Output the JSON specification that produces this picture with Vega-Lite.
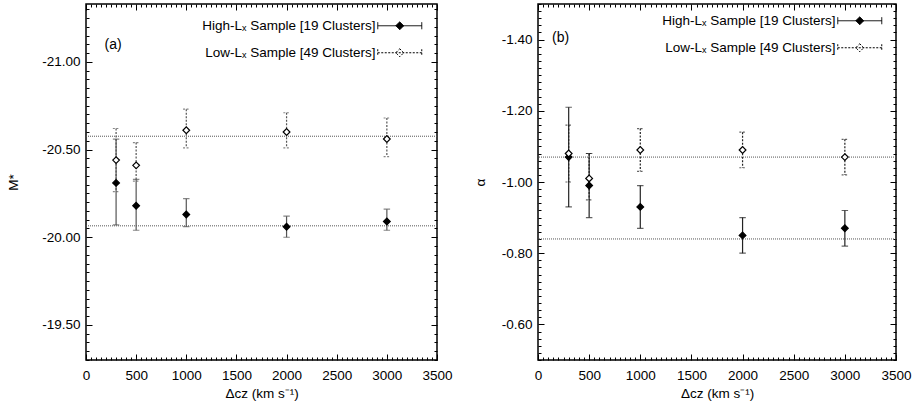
{
  "$schema": "https://vega.github.io/schema/vega-lite/v6.json",
  "background": "white",
  "padding": {"left": 5, "top": -4, "right": 5, "bottom": 0},
  "config": {
    "font": "Liberation Sans",
    "view": {"stroke": "black", "strokeWidth": 1.5},
    "axis": {"domain": false, "grid": false, "labelFont": "Liberation Sans", "labelFontSize": 13.5, "labelColor": "black", "titleFont": "Liberation Sans", "titleFontSize": 13.5, "titleFontWeight": "normal", "titleColor": "black", "tickColor": "black", "tickWidth": 1, "labelPadding": 12, "labelFlush": false, "labelOverlap": false, "labelBound": false},
    "legend": {"title": null, "orient": "none", "padding": 0, "symbolType": "M-4.4,0H4.4M-4.4,-0.7V0.7M4.4,-0.7V0.7M0,-0.8L0.8,0L0,0.8L-0.8,0Z", "symbolStrokeWidth": 1, "symbolStrokeColor": "black", "labelAlign": "right", "labelOffset": -31, "rowPadding": 12, "labelFont": "Liberation Sans", "labelFontSize": 13.5, "labelColor": "black", "labelLimit": 400},
    "title": {"font": "Liberation Sans", "fontSize": 14, "fontWeight": "normal", "color": "black", "anchor": "start", "frame": "group", "baseline": "alphabetic"}
  },
  "datasets": {
    "mstar": [
      {"series": "High-Lₓ Sample [19 Clusters]", "dcz": 300, "val": -20.31, "lo": -20.56, "hi": -20.07},
      {"series": "High-Lₓ Sample [19 Clusters]", "dcz": 500, "val": -20.18, "lo": -20.33, "hi": -20.04},
      {"series": "High-Lₓ Sample [19 Clusters]", "dcz": 1000, "val": -20.13, "lo": -20.22, "hi": -20.06},
      {"series": "High-Lₓ Sample [19 Clusters]", "dcz": 2000, "val": -20.06, "lo": -20.12, "hi": -20.0},
      {"series": "High-Lₓ Sample [19 Clusters]", "dcz": 3000, "val": -20.09, "lo": -20.16, "hi": -20.04},
      {"series": "Low-Lₓ Sample [49 Clusters]", "dcz": 300, "val": -20.44, "lo": -20.62, "hi": -20.26},
      {"series": "Low-Lₓ Sample [49 Clusters]", "dcz": 500, "val": -20.41, "lo": -20.54, "hi": -20.32},
      {"series": "Low-Lₓ Sample [49 Clusters]", "dcz": 1000, "val": -20.61, "lo": -20.73, "hi": -20.51},
      {"series": "Low-Lₓ Sample [49 Clusters]", "dcz": 2000, "val": -20.6, "lo": -20.71, "hi": -20.51},
      {"series": "Low-Lₓ Sample [49 Clusters]", "dcz": 3000, "val": -20.56, "lo": -20.68, "hi": -20.46}
    ],
    "mstar_lines": [
      {"series": "High-Lₓ Sample [19 Clusters]", "level": -20.065},
      {"series": "Low-Lₓ Sample [49 Clusters]", "level": -20.576}
    ],
    "alpha": [
      {"series": "High-Lₓ Sample [19 Clusters]", "dcz": 300, "val": -1.07, "lo": -1.21, "hi": -0.93},
      {"series": "High-Lₓ Sample [19 Clusters]", "dcz": 500, "val": -0.99, "lo": -1.08, "hi": -0.9},
      {"series": "High-Lₓ Sample [19 Clusters]", "dcz": 1000, "val": -0.93, "lo": -0.99, "hi": -0.87},
      {"series": "High-Lₓ Sample [19 Clusters]", "dcz": 2000, "val": -0.85, "lo": -0.9, "hi": -0.8},
      {"series": "High-Lₓ Sample [19 Clusters]", "dcz": 3000, "val": -0.87, "lo": -0.92, "hi": -0.82},
      {"series": "Low-Lₓ Sample [49 Clusters]", "dcz": 300, "val": -1.08, "lo": -1.16, "hi": -1.0},
      {"series": "Low-Lₓ Sample [49 Clusters]", "dcz": 500, "val": -1.01, "lo": -1.08, "hi": -0.95},
      {"series": "Low-Lₓ Sample [49 Clusters]", "dcz": 1000, "val": -1.09, "lo": -1.15, "hi": -1.03},
      {"series": "Low-Lₓ Sample [49 Clusters]", "dcz": 2000, "val": -1.09, "lo": -1.14, "hi": -1.04},
      {"series": "Low-Lₓ Sample [49 Clusters]", "dcz": 3000, "val": -1.07, "lo": -1.12, "hi": -1.02}
    ],
    "alpha_lines": [
      {"series": "High-Lₓ Sample [19 Clusters]", "level": -0.84},
      {"series": "Low-Lₓ Sample [49 Clusters]", "level": -1.07}
    ]
  },
  "resolve": {
    "scale": {"strokeDash": "independent", "fill": "independent"},
    "legend": {"strokeDash": "independent", "fill": "independent"}
  },
  "spacing": 19,
  "hconcat": [
    {
      "width": 351,
      "height": 356,
      "title": {"text": "(a)", "offset": -49.5, "dx": 18.5},
      "resolve": {"axis": {"x": "independent", "y": "independent"}},
      "layer": [
        {
          "data": {"name": "mstar"},
          "mark": {"type": "rule", "color": "#555", "strokeWidth": 1.2},
          "encoding": {
            "x": {"field": "dcz", "type": "quantitative", "scale": {"domain": [0, 3500], "nice": false, "zero": false},
              "axis": {"orient": "bottom", "title": "Δcz (km s⁻¹)", "titlePadding": 2, "labelPadding": 14,
                "values": [0,50,100,150,200,250,300,350,400,450,500,550,600,650,700,750,800,850,900,950,1000,1050,1100,1150,1200,1250,1300,1350,1400,1450,1500,1550,1600,1650,1700,1750,1800,1850,1900,1950,2000,2050,2100,2150,2200,2250,2300,2350,2400,2450,2500,2550,2600,2650,2700,2750,2800,2850,2900,2950,3000,3050,3100,3150,3200,3250,3300,3350,3400,3450,3500],
                "labelExpr": "datum.value % 500 === 0 ? format(datum.value, 'd') : ''",
                "tickSize": {"condition": {"test": "datum.value % 500 === 0", "value": -6}, "value": -3}}},
            "y": {"field": "lo", "type": "quantitative", "scale": {"domain": [-21.33, -19.3], "reverse": true, "nice": false, "zero": false},
              "axis": {"orient": "left", "title": "M*", "titlePadding": 21, "labelPadding": 12,
                "values": [-21.3,-21.25,-21.2,-21.15,-21.1,-21.05,-21,-20.95,-20.9,-20.85,-20.8,-20.75,-20.7,-20.65,-20.6,-20.55,-20.5,-20.45,-20.4,-20.35,-20.3,-20.25,-20.2,-20.15,-20.1,-20.05,-20,-19.95,-19.9,-19.85,-19.8,-19.75,-19.7,-19.65,-19.6,-19.55,-19.5,-19.45,-19.4,-19.35,-19.3],
                "labelExpr": "abs(datum.value*2 - round(datum.value*2)) < 0.001 ? replace(format(datum.value, '.2f'), '−', '-') : ''",
                "tickSize": {"condition": {"test": "abs(datum.value*2 - round(datum.value*2)) < 0.001", "value": -6}, "value": -3}}},
            "y2": {"field": "hi"},
            "strokeDash": {"field": "series", "type": "nominal",
              "scale": {"domain": ["High-Lₓ Sample [19 Clusters]", "Low-Lₓ Sample [49 Clusters]"], "range": [[1, 0], [2, 1.5]]},
              "legend": {"orient": "none", "legendX": 307, "legendY": 15}}
          }
        },
        {
          "data": {"name": "mstar"},
          "mark": {"type": "point", "shape": "stroke", "size": 42, "color": "#555", "strokeWidth": 1.2, "filled": false},
          "encoding": {
            "x": {"field": "dcz", "type": "quantitative",
              "axis": {"orient": "top", "labels": false, "title": null,
                "values": [0,50,100,150,200,250,300,350,400,450,500,550,600,650,700,750,800,850,900,950,1000,1050,1100,1150,1200,1250,1300,1350,1400,1450,1500,1550,1600,1650,1700,1750,1800,1850,1900,1950,2000,2050,2100,2150,2200,2250,2300,2350,2400,2450,2500,2550,2600,2650,2700,2750,2800,2850,2900,2950,3000,3050,3100,3150,3200,3250,3300,3350,3400,3450,3500],
                "tickSize": {"condition": {"test": "datum.value % 500 === 0", "value": -6}, "value": -3}}},
            "y": {"field": "lo", "type": "quantitative",
              "axis": {"orient": "right", "labels": false, "title": null,
                "values": [-21.3,-21.25,-21.2,-21.15,-21.1,-21.05,-21,-20.95,-20.9,-20.85,-20.8,-20.75,-20.7,-20.65,-20.6,-20.55,-20.5,-20.45,-20.4,-20.35,-20.3,-20.25,-20.2,-20.15,-20.1,-20.05,-20,-19.95,-19.9,-19.85,-19.8,-19.75,-19.7,-19.65,-19.6,-19.55,-19.5,-19.45,-19.4,-19.35,-19.3],
                "tickSize": {"condition": {"test": "abs(datum.value*2 - round(datum.value*2)) < 0.001", "value": -6}, "value": -3}}},
            "strokeDash": {"field": "series", "type": "nominal", "legend": null}
          }
        },
        {
          "data": {"name": "mstar"},
          "mark": {"type": "point", "shape": "stroke", "size": 42, "color": "#555", "strokeWidth": 1.2, "filled": false},
          "encoding": {
            "x": {"field": "dcz", "type": "quantitative", "axis": null},
            "y": {"field": "hi", "type": "quantitative", "axis": null},
            "strokeDash": {"field": "series", "type": "nominal", "legend": null}
          }
        },
        {
          "data": {"name": "mstar_lines"},
          "mark": {"type": "rule", "color": "#555", "strokeWidth": 1, "strokeDash": [1, 1]},
          "encoding": {
            "y": {"field": "level", "type": "quantitative", "axis": null}
          }
        },
        {
          "data": {"name": "mstar"},
          "mark": {"type": "point", "shape": "diamond", "size": 45, "filled": true, "stroke": "black", "strokeWidth": 1.2, "opacity": 1},
          "encoding": {
            "x": {"field": "dcz", "type": "quantitative", "axis": null},
            "y": {"field": "val", "type": "quantitative", "axis": null},
            "fill": {"field": "series", "type": "nominal",
              "scale": {"domain": ["High-Lₓ Sample [19 Clusters]", "Low-Lₓ Sample [49 Clusters]"], "range": ["black", "white"]},
              "legend": {"orient": "none", "legendX": 307, "legendY": 15}}
          }
        }
      ]
    },
    {
      "width": 358,
      "height": 356,
      "title": {"text": "(b)", "offset": -48, "dx": 14},
      "resolve": {"axis": {"x": "independent", "y": "independent"}},
      "layer": [
        {
          "data": {"name": "alpha"},
          "mark": {"type": "rule", "color": "#222", "strokeWidth": 1.2},
          "encoding": {
            "x": {"field": "dcz", "type": "quantitative", "scale": {"domain": [0, 3500], "nice": false, "zero": false},
              "axis": {"orient": "bottom", "title": "Δcz (km s⁻¹)", "titlePadding": 2, "labelPadding": 14,
                "values": [0,50,100,150,200,250,300,350,400,450,500,550,600,650,700,750,800,850,900,950,1000,1050,1100,1150,1200,1250,1300,1350,1400,1450,1500,1550,1600,1650,1700,1750,1800,1850,1900,1950,2000,2050,2100,2150,2200,2250,2300,2350,2400,2450,2500,2550,2600,2650,2700,2750,2800,2850,2900,2950,3000,3050,3100,3150,3200,3250,3300,3350,3400,3450,3500],
                "labelExpr": "datum.value % 500 === 0 ? format(datum.value, 'd') : ''",
                "tickSize": {"condition": {"test": "datum.value % 500 === 0", "value": -6}, "value": -3}}},
            "y": {"field": "lo", "type": "quantitative", "scale": {"domain": [-1.5, -0.5], "reverse": true, "nice": false, "zero": false},
              "axis": {"orient": "left", "title": "α", "titlePadding": 14, "labelPadding": 12,
                "values": [-1.5,-1.48,-1.46,-1.44,-1.42,-1.4,-1.38,-1.36,-1.34,-1.32,-1.3,-1.28,-1.26,-1.24,-1.22,-1.2,-1.18,-1.16,-1.14,-1.12,-1.1,-1.08,-1.06,-1.04,-1.02,-1,-0.98,-0.96,-0.94,-0.92,-0.9,-0.88,-0.86,-0.84,-0.82,-0.8,-0.78,-0.76,-0.74,-0.72,-0.7,-0.68,-0.66,-0.64,-0.62,-0.6,-0.58,-0.56,-0.54,-0.52,-0.5],
                "labelExpr": "abs(datum.value*5 - round(datum.value*5)) < 0.001 && datum.value > -1.45 && datum.value < -0.55 ? replace(format(datum.value, '.2f'), '−', '-') : ''",
                "tickSize": {"condition": {"test": "abs(datum.value*5 - round(datum.value*5)) < 0.001", "value": -6}, "value": -3}}},
            "y2": {"field": "hi"},
            "strokeDash": {"field": "series", "type": "nominal",
              "scale": {"domain": ["High-Lₓ Sample [19 Clusters]", "Low-Lₓ Sample [49 Clusters]"], "range": [[1, 0], [2, 1.5]]},
              "legend": {"orient": "none", "legendX": 315, "legendY": 10}}
          }
        },
        {
          "data": {"name": "alpha"},
          "mark": {"type": "point", "shape": "stroke", "size": 42, "color": "#222", "strokeWidth": 1.2, "filled": false},
          "encoding": {
            "x": {"field": "dcz", "type": "quantitative",
              "axis": {"orient": "top", "labels": false, "title": null,
                "values": [0,50,100,150,200,250,300,350,400,450,500,550,600,650,700,750,800,850,900,950,1000,1050,1100,1150,1200,1250,1300,1350,1400,1450,1500,1550,1600,1650,1700,1750,1800,1850,1900,1950,2000,2050,2100,2150,2200,2250,2300,2350,2400,2450,2500,2550,2600,2650,2700,2750,2800,2850,2900,2950,3000,3050,3100,3150,3200,3250,3300,3350,3400,3450,3500],
                "tickSize": {"condition": {"test": "datum.value % 500 === 0", "value": -6}, "value": -3}}},
            "y": {"field": "lo", "type": "quantitative",
              "axis": {"orient": "right", "labels": false, "title": null,
                "values": [-1.5,-1.48,-1.46,-1.44,-1.42,-1.4,-1.38,-1.36,-1.34,-1.32,-1.3,-1.28,-1.26,-1.24,-1.22,-1.2,-1.18,-1.16,-1.14,-1.12,-1.1,-1.08,-1.06,-1.04,-1.02,-1,-0.98,-0.96,-0.94,-0.92,-0.9,-0.88,-0.86,-0.84,-0.82,-0.8,-0.78,-0.76,-0.74,-0.72,-0.7,-0.68,-0.66,-0.64,-0.62,-0.6,-0.58,-0.56,-0.54,-0.52,-0.5],
                "tickSize": {"condition": {"test": "abs(datum.value*5 - round(datum.value*5)) < 0.001", "value": -6}, "value": -3}}},
            "strokeDash": {"field": "series", "type": "nominal", "legend": null}
          }
        },
        {
          "data": {"name": "alpha"},
          "mark": {"type": "point", "shape": "stroke", "size": 42, "color": "#222", "strokeWidth": 1.2, "filled": false},
          "encoding": {
            "x": {"field": "dcz", "type": "quantitative", "axis": null},
            "y": {"field": "hi", "type": "quantitative", "axis": null},
            "strokeDash": {"field": "series", "type": "nominal", "legend": null}
          }
        },
        {
          "data": {"name": "alpha_lines"},
          "mark": {"type": "rule", "color": "#555", "strokeWidth": 1, "strokeDash": [1, 1]},
          "encoding": {
            "y": {"field": "level", "type": "quantitative", "axis": null}
          }
        },
        {
          "data": {"name": "alpha"},
          "mark": {"type": "point", "shape": "diamond", "size": 45, "filled": true, "stroke": "black", "strokeWidth": 1.2, "opacity": 1},
          "encoding": {
            "x": {"field": "dcz", "type": "quantitative", "axis": null},
            "y": {"field": "val", "type": "quantitative", "axis": null},
            "fill": {"field": "series", "type": "nominal",
              "scale": {"domain": ["High-Lₓ Sample [19 Clusters]", "Low-Lₓ Sample [49 Clusters]"], "range": ["black", "white"]},
              "legend": {"orient": "none", "legendX": 315, "legendY": 10}}
          }
        }
      ]
    }
  ]
}
